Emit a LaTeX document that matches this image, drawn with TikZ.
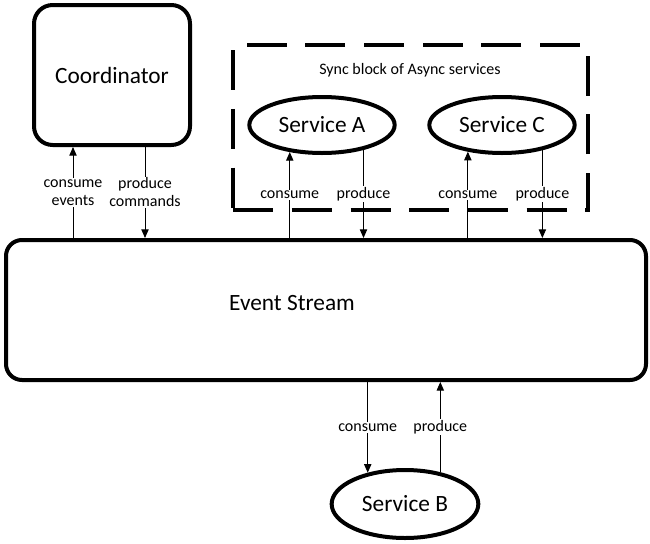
\documentclass[tikz,border=0pt]{standalone}
\usepackage{fontspec}
\setmainfont{Carlito}
\usetikzlibrary{positioning, arrows.meta, shapes.geometric}

\begin{document}
\begin{tikzpicture}[x=0.75pt, y=-0.75pt,
    box/.style={draw, line width=3pt, rounded corners=14pt, font=\fontsize{17.5}{20}\selectfont},
    service/.style={draw, ellipse, line width=3pt, inner sep=0pt, font=\fontsize{17.5}{20}\selectfont},
    flow/.style={-{Triangle[length=6.5pt, width=5.5pt]}, line width=0.75pt},
    tag/.style={fill=white, inner sep=1pt, align=center, font=\fontsize{12}{13.5}\selectfont}]
    \useasboundingbox (0, 0) rectangle (650, 543);
    % boxes
    \node (coord) [box, minimum width=117pt, minimum height=105pt] at (112, 75) {Coordinator};
    \node (stream) [box, rounded corners=12pt, minimum width=480pt, minimum height=105pt] at (326, 310) {};
    \node (streamtext) [font=\fontsize{17.5}{20}\selectfont] at (292, 303) {Event Stream};
    \node (sync) [draw, line width=3pt, dash pattern=on 30pt off 14pt, minimum width=266pt, minimum height=124pt] at (410.5, 127.5) {};
    \node (synctext) [font=\fontsize{12}{14}\selectfont] at (410, 70) {Sync block of Async services};
    % services
    \node (A) [service, minimum width=109pt, minimum height=42pt] at (322, 125) {Service A};
    \node (C) [service, minimum width=109pt, minimum height=42pt] at (502, 125) {Service C};
    \node (B) [service, minimum width=110pt, minimum height=51pt] at (405, 504) {Service B};
    % coordinator <-> stream
    \draw [flow] ([xshift=-29.25pt]coord.south |- stream.north) -- ([xshift=-29.25pt]coord.south) node [tag, midway] {consume\\events};
    \draw [flow] ([xshift=24.75pt]coord.south) -- ([xshift=24.75pt]coord.south |- stream.north) node [tag, midway] {produce\\commands};
    % sync block <-> stream
    \draw [flow] (A.220 |- stream.north) -- (A.220) node [tag, midway] {consume};
    \draw [flow] (A.329) -- (A.329 |- stream.north) node [tag, midway] {produce};
    \draw [flow] (C.218 |- stream.north) -- (C.218) node [tag, midway] {consume};
    \draw [flow] (C.328) -- (C.328 |- stream.north) node [tag, midway] {produce};
    % service B <-> stream
    \draw [flow] (B.140 |- stream.south) -- (B.140) node [tag, midway] {consume};
    \draw [flow] (B.42) -- (B.42 |- stream.south) node [tag, midway] {produce};
\end{tikzpicture}
\end{document}
